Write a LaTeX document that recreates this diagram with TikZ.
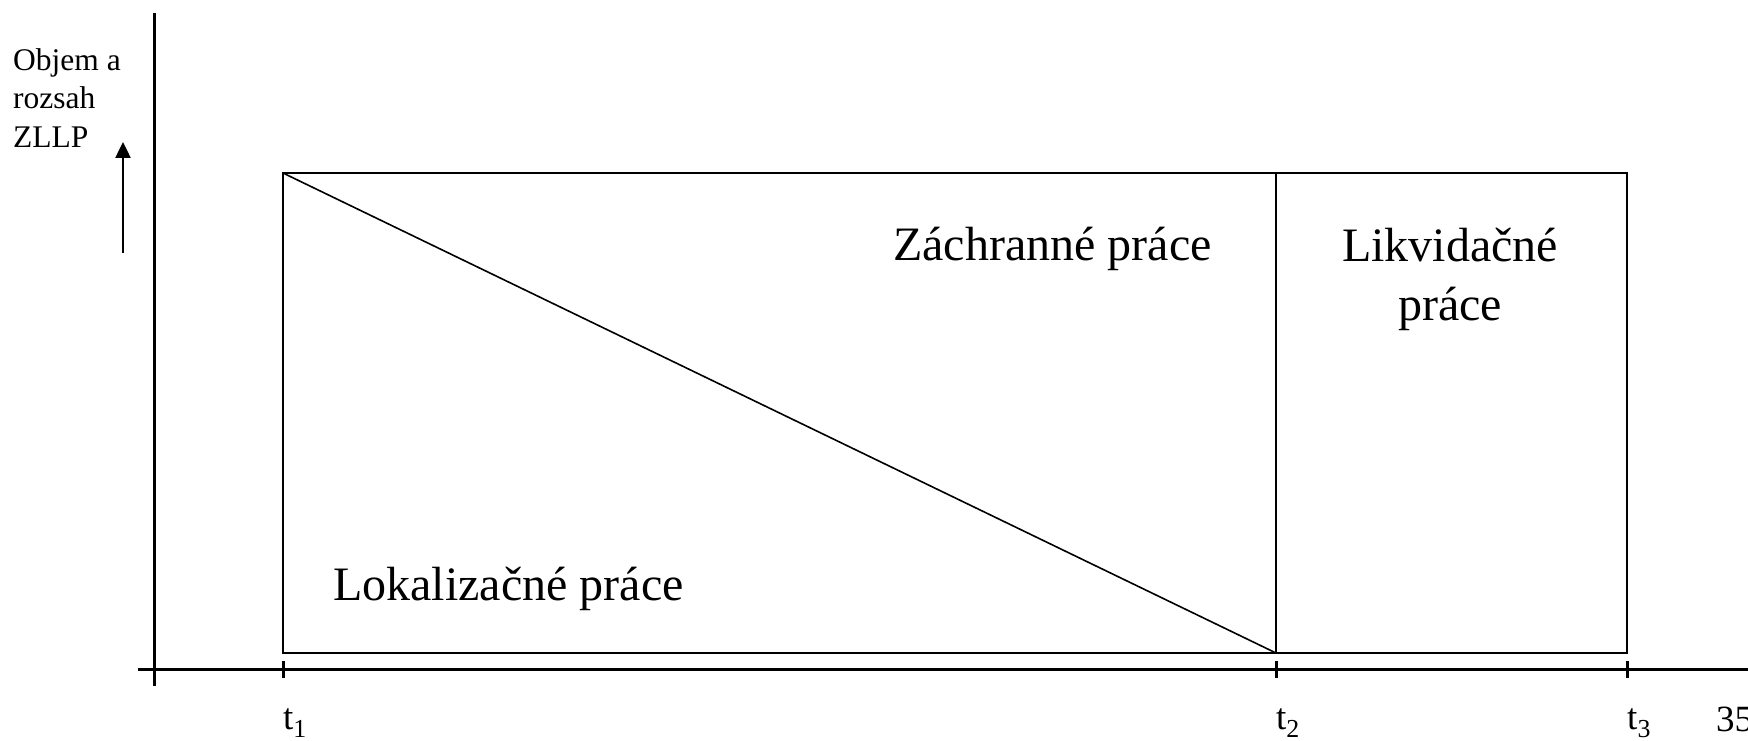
\documentclass[tikz,border=0pt]{standalone}
\usepackage{fontspec}
\setmainfont{Liberation Serif}
\usetikzlibrary{arrows.meta}
\begin{document}
\begin{tikzpicture}[x=1pt,y=-1pt,
  axisline/.style={line width=3pt},
  boxline/.style={line width=1.6pt},
  tickline/.style={line width=3pt},
  bigtext/.style={font=\fontsize{48}{59}\selectfont, inner sep=0pt},
  smalltext/.style={font=\fontsize{31.5}{38.5}\selectfont, inner sep=0pt, align=left},
  ticktext/.style={font=\fontsize{37}{40}\selectfont, inner sep=0pt}]
\useasboundingbox (0,0) rectangle (1748,741);
% axes
\coordinate (ytop) at (154,13);
\coordinate (ybot) at (154,686);
\coordinate (xleft) at (138,669);
\coordinate (xright) at (1748,669);
\draw[axisline] (ytop) -- (ybot);
\draw[axisline] (xleft) -- (xright);
% ticks
\foreach \n/\x in {a/283,b/1276,c/1627}{
  \coordinate (tk\n u) at (\x,661);
  \coordinate (tk\n d) at (\x,678);
  \draw[tickline] (tk\n u) -- (tk\n d);
}
% box
\coordinate (bl) at (283,653);
\coordinate (tl) at (283,173);
\coordinate (tr) at (1627,173);
\coordinate (br) at (1627,653);
\coordinate (mt) at (1276,173);
\coordinate (mb) at (1276,653);
\draw[boxline] (bl) -- (tl) -- (tr) -- (br) -- cycle;
\draw[boxline] (mt) -- (mb);
\draw[boxline] (tl) -- (mb);
% labels
\node[bigtext, anchor=base west] (zach) at (893,260) {Záchranné práce};
\node[bigtext, anchor=base west] (lok) at (333,600) {Lokalizačné práce};
\node[bigtext, anchor=base, align=center] (likv) at (1450,320) {Likvidačné\\práce};
\node[smalltext, anchor=base west] (yl) at (13,147) {Objem a\\rozsah\\ZLLP};
% arrow
\coordinate (arrs) at (123,253);
\coordinate (arre) at (123,142);
\draw[line width=2.5pt, -{Triangle[width=15pt,length=16pt]}] (arrs) -- (arre);
% tick labels
\node[ticktext, anchor=base west] (t1) at (283,729) {t\textsubscript{1}};
\node[ticktext, anchor=base west] (t2) at (1276,729) {t\textsubscript{2}};
\node[ticktext, anchor=base west] (t3) at (1627,729) {t\textsubscript{3}};
\node[ticktext, anchor=base west] (pg) at (1716,731) {35};
\end{tikzpicture}
\end{document}
